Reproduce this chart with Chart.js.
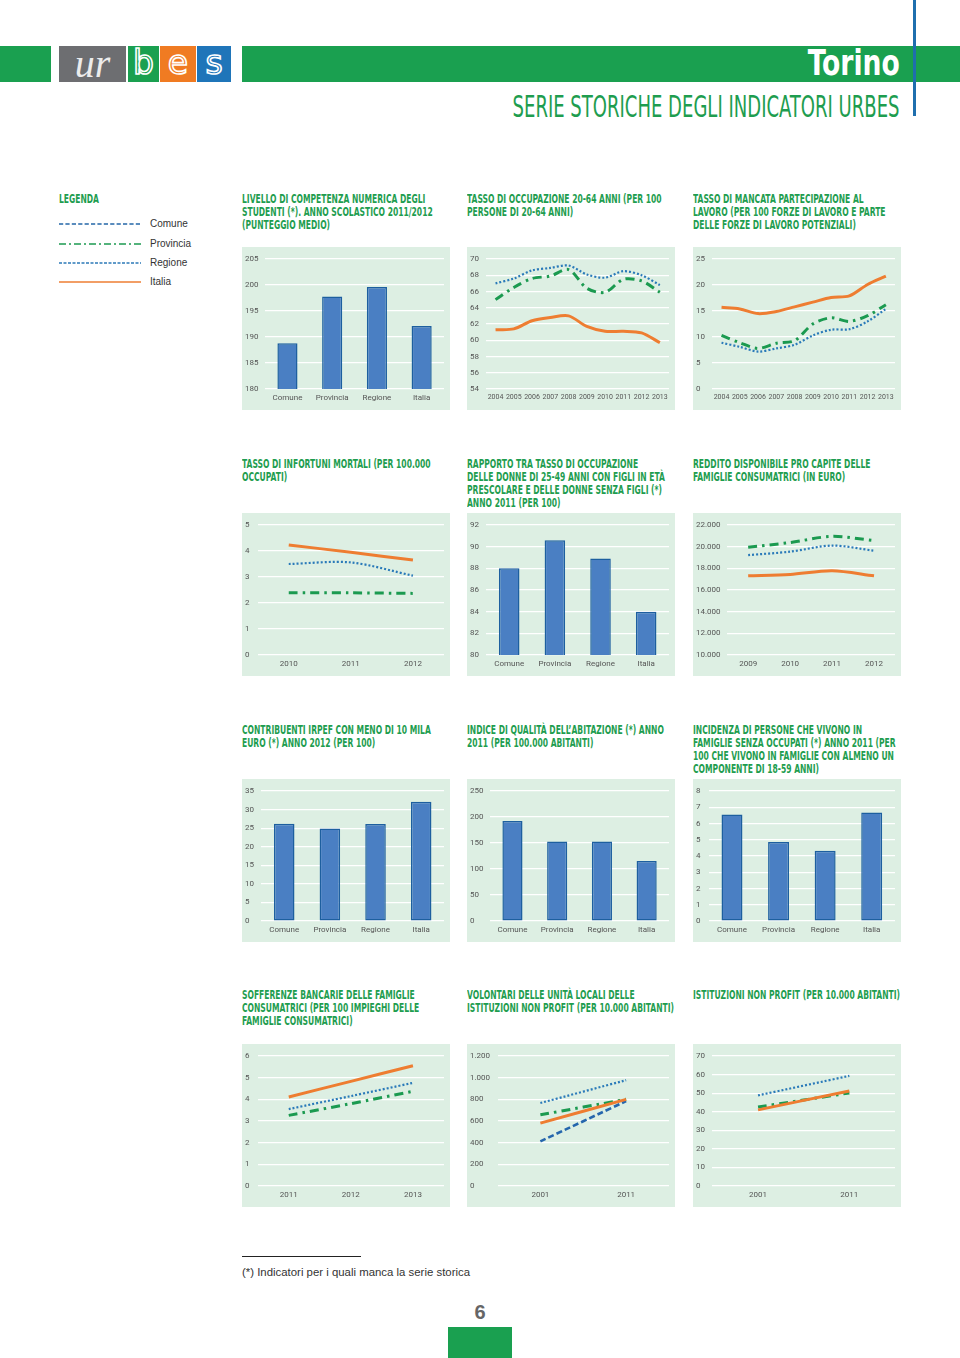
<!DOCTYPE html>
<html><head><meta charset="utf-8">
<script src="https://cdn.jsdelivr.net/npm/chart.js@4"></script>
<style>
body{margin:0;width:960px;height:1358px;position:relative;background:#fff;overflow:hidden;font-family:'Liberation Sans',Arial,sans-serif;}
.abs{position:absolute;}
.green{background:#1aa050;}
.narrow{font-family:'Liberation Sans Narrow','DejaVu Sans Condensed','Roboto Condensed',Roboto,sans-serif;}
.title{position:absolute;color:#1e9d4f;font-weight:bold;font-size:12.5px;line-height:13px;white-space:nowrap;transform-origin:0 0;}
.panel{position:absolute;width:208px;height:163px;background:#ddefe3;}
.panel canvas{display:block;}
.logo{position:absolute;top:46px;height:36px;text-align:center;line-height:34px;overflow:hidden;}
.ol{color:transparent;-webkit-text-stroke:1.6px #fff;font-family:'DejaVu Sans',sans-serif;font-size:33px;}
.leg{position:absolute;left:150px;font-size:10px;color:#333;line-height:12px;}
</style></head>
<body>
<!-- header -->
<div class="abs green" style="left:0;top:46px;width:51px;height:36px"></div>
<div class="logo" style="left:59px;width:67px;background:#6d6e71;color:#ececec;font-family:'Liberation Serif',serif;font-style:italic;font-size:40px;line-height:36px;">ur</div>
<div class="logo ol" style="left:128px;width:31px;background:#1aa050;">b</div>
<div class="logo ol" style="left:160px;width:36px;background:#f07b22;">e</div>
<div class="logo ol" style="left:197px;width:34px;background:#1f75b9;">s</div>
<div class="abs green" style="left:242px;top:46px;width:718px;height:36px"></div>
<div id="torino" class="abs narrow" style="right:60px;top:46px;font-size:35px;line-height:35px;color:#fff;font-weight:bold;white-space:nowrap;">Torino</div>
<div class="abs" style="left:913px;top:0;width:3px;height:116px;background:#1f6fae"></div>
<div id="subtitle" class="abs narrow" style="right:60px;top:91px;font-size:31px;line-height:31px;color:#1e9d4f;white-space:nowrap;">SERIE STORICHE DEGLI INDICATORI URBES</div>

<!-- legend -->
<div class="title narrow" style="left:59px;top:191.5px;">LEGENDA</div>
<svg class="abs" style="left:59px;top:215px" width="84" height="75">
  <line x1="0" y1="9" x2="82" y2="9" stroke="#2467a8" stroke-width="1.6" stroke-dasharray="4.2,2.2"/>
  <line x1="0" y1="29" x2="82" y2="29" stroke="#1d9a52" stroke-width="1.6" stroke-dasharray="7,3,2,3"/>
  <line x1="0" y1="48" x2="82" y2="48" stroke="#2d7ab8" stroke-width="1.4" stroke-dasharray="3,1.5"/>
  <line x1="0" y1="67" x2="82" y2="67" stroke="#ee7e33" stroke-width="1.6"/>
</svg>
<div class="leg" style="top:218px">Comune</div>
<div class="leg" style="top:238px">Provincia</div>
<div class="leg" style="top:257px">Regione</div>
<div class="leg" style="top:276px">Italia</div>

<!-- titles row 1 -->
<div class="title narrow" style="left:242px;top:191.5px;">LIVELLO DI COMPETENZA NUMERICA DEGLI<br>STUDENTI (*). ANNO SCOLASTICO 2011/2012<br>(PUNTEGGIO MEDIO)</div>
<div class="title narrow" style="left:467px;top:191.5px;">TASSO DI OCCUPAZIONE 20-64 ANNI (PER 100<br>PERSONE DI 20-64 ANNI)</div>
<div class="title narrow" style="left:693px;top:191.5px;">TASSO DI MANCATA PARTECIPAZIONE AL<br>LAVORO (PER 100 FORZE DI LAVORO E PARTE<br>DELLE FORZE DI LAVORO POTENZIALI)</div>
<!-- row 2 -->
<div class="title narrow" style="left:242px;top:456.5px;">TASSO DI INFORTUNI MORTALI (PER 100.000<br>OCCUPATI)</div>
<div class="title narrow" style="left:467px;top:456.5px;">RAPPORTO TRA TASSO DI OCCUPAZIONE<br>DELLE DONNE DI 25-49 ANNI CON FIGLI IN ETÀ<br>PRESCOLARE E DELLE DONNE SENZA FIGLI (*)<br>ANNO 2011 (PER 100)</div>
<div class="title narrow" style="left:693px;top:456.5px;">REDDITO DISPONIBILE PRO CAPITE DELLE<br>FAMIGLIE CONSUMATRICI (IN EURO)</div>
<!-- row 3 -->
<div class="title narrow" style="left:242px;top:722.5px;">CONTRIBUENTI IRPEF CON MENO DI 10 MILA<br>EURO (*) ANNO 2012 (PER 100)</div>
<div class="title narrow" style="left:467px;top:722.5px;">INDICE DI QUALITÀ DELL’ABITAZIONE (*) ANNO<br>2011 (PER 100.000 ABITANTI)</div>
<div class="title narrow" style="left:693px;top:722.5px;">INCIDENZA DI PERSONE CHE VIVONO IN<br>FAMIGLIE SENZA OCCUPATI (*) ANNO 2011 (PER<br>100 CHE VIVONO IN FAMIGLIE CON ALMENO UN<br>COMPONENTE DI 18-59 ANNI)</div>
<!-- row 4 -->
<div class="title narrow" style="left:242px;top:987.5px;">SOFFERENZE BANCARIE DELLE FAMIGLIE<br>CONSUMATRICI (PER 100 IMPIEGHI DELLE<br>FAMIGLIE CONSUMATRICI)</div>
<div class="title narrow" style="left:467px;top:987.5px;">VOLONTARI DELLE UNITÀ LOCALI DELLE<br>ISTITUZIONI NON PROFIT (PER 10.000 ABITANTI)</div>
<div class="title narrow" style="left:693px;top:987.5px;">ISTITUZIONI NON PROFIT (PER 10.000 ABITANTI)</div>
<span id="measure" class="title narrow" style="visibility:hidden;left:0;top:0;">ISTITUZIONI NON PROFIT (PER 10.000 ABITANTI)</span>

<!-- panels -->
<div class="panel" style="left:242px;top:247px"><canvas id="c1" width="208" height="163"></canvas></div>
<div class="panel" style="left:467px;top:247px"><canvas id="c2" width="208" height="163"></canvas></div>
<div class="panel" style="left:693px;top:247px"><canvas id="c3" width="208" height="163"></canvas></div>
<div class="panel" style="left:242px;top:513px"><canvas id="c4" width="208" height="163"></canvas></div>
<div class="panel" style="left:467px;top:513px"><canvas id="c5" width="208" height="163"></canvas></div>
<div class="panel" style="left:693px;top:513px"><canvas id="c6" width="208" height="163"></canvas></div>
<div class="panel" style="left:242px;top:779px"><canvas id="c7" width="208" height="163"></canvas></div>
<div class="panel" style="left:467px;top:779px"><canvas id="c8" width="208" height="163"></canvas></div>
<div class="panel" style="left:693px;top:779px"><canvas id="c9" width="208" height="163"></canvas></div>
<div class="panel" style="left:242px;top:1044px"><canvas id="c10" width="208" height="163"></canvas></div>
<div class="panel" style="left:467px;top:1044px"><canvas id="c11" width="208" height="163"></canvas></div>
<div class="panel" style="left:693px;top:1044px"><canvas id="c12" width="208" height="163"></canvas></div>

<!-- footer -->
<div class="abs" style="left:242px;top:1256px;width:119px;height:1px;background:#222"></div>
<div id="foot" class="abs" style="left:242px;top:1265px;font-size:10.5px;line-height:14px;color:#333;white-space:nowrap;transform-origin:0 0;">(*) Indicatori per i quali manca la serie storica</div>
<div class="abs" style="left:448px;top:1300px;width:64px;text-align:center;font-size:20px;font-weight:bold;color:#666;line-height:24px;">6</div>
<div class="abs green" style="left:448px;top:1327px;width:64px;height:31px"></div>

<script>
// ---------- DATA ----------
const barCategories = ['Comune', 'Provincia', 'Regione', 'Italia'];

// 1. Livello di competenza numerica degli studenti
const competenzaValues = [188.8, 197.8, 199.6, 192.1];
const competenzaTicks = [180, 205, 5];

// 2. Tasso di occupazione 20-64
const occupazioneYears = ['2004','2005','2006','2007','2008','2009','2010','2011','2012','2013'];
const occupazioneItalia    = [61.3, 61.4, 62.4, 62.8, 63.0, 61.7, 61.1, 61.1, 60.9, 59.7];
const occupazioneRegione   = [67.0, 67.6, 68.6, 68.9, 69.2, 68.1, 67.7, 68.5, 68.0, 66.8];
const occupazioneProvincia = [65.0, 66.5, 67.6, 67.9, 68.7, 66.4, 65.9, 67.5, 67.3, 65.9];
const occupazioneTicks = [54, 70, 2];

// 3. Tasso di mancata partecipazione al lavoro
const mancataYears = ['2004','2005','2006','2007','2008','2009','2010','2011','2012','2013'];
const mancataItalia    = [15.7, 15.4, 14.5, 14.9, 15.8, 16.7, 17.6, 17.9, 20.1, 21.7];
const mancataRegione   = [8.9, 8.1, 7.2, 7.8, 8.5, 10.3, 11.4, 11.5, 13.0, 15.4];
const mancataProvincia = [10.3, 8.9, 7.8, 8.8, 9.3, 12.5, 13.7, 13.0, 14.1, 16.2];
const mancataTicks = [0, 25, 5];

// 4. Tasso di infortuni mortali
const infortuniYears = ['2010','2011','2012'];
const infortuniItalia    = [4.23, 3.95, 3.65];
const infortuniRegione   = [3.50, 3.56, 3.05];
const infortuniProvincia = [2.39, 2.39, 2.37];
const infortuniTicks = [0, 5, 1];

// 5. Rapporto tasso di occupazione donne
const rapportoValues = [88.0, 90.6, 88.9, 84.0];
const rapportoTicks = [80, 92, 2];

// 6. Reddito disponibile pro capite
const redditoYears = ['2009','2010','2011','2012'];
const redditoItalia    = [17310, 17440, 17780, 17310];
const redditoRegione   = [19220, 19540, 20100, 19630];
const redditoProvincia = [19950, 20380, 20950, 20560];
const redditoTicks = [10000, 22000, 2000];

// 7. Contribuenti IRPEF con meno di 10 mila euro
const irpefValues = [26.2, 24.9, 26.1, 32.1];
const irpefTicks = [0, 35, 5];

// 8. Indice di qualita dell'abitazione
const abitazioneValues = [192.5, 153, 153, 115.5];
const abitazioneTicks = [0, 250, 50];

// 9. Incidenza di persone in famiglie senza occupati
const incidenzaValues = [6.55, 4.86, 4.32, 6.67];
const incidenzaTicks = [0, 8, 1];

// 10. Sofferenze bancarie
const sofferenzeYears = ['2011','2012','2013'];
const sofferenzeItalia    = [4.11, 4.83, 5.55];
const sofferenzeRegione   = [3.55, 4.15, 4.76];
const sofferenzeProvincia = [3.26, 3.80, 4.37];
const sofferenzeTicks = [0, 6, 1];

// 11. Volontari delle unita locali
const volontariYears = ['2001','2011'];
const volontariItalia    = [580, 800];
const volontariRegione   = [766, 977];
const volontariProvincia = [657, 800];
const volontariComune    = [412, 784];
const volontariTicks = [0, 1200, 200];

// 12. Istituzioni non profit
const nonprofitYears = ['2001','2011'];
const nonprofitItalia    = [41.0, 51.2];
const nonprofitRegione   = [48.8, 59.3];
const nonprofitProvincia = [42.5, 50.1];
const nonprofitTicks = [0, 70, 10];

// ---------- TEXT FITTING ----------
(function(){
  const m = document.getElementById('measure');
  const f = 207 / m.getBoundingClientRect().width;
  document.querySelectorAll('.title').forEach(el => { el.style.transform = 'scaleX(' + f + ')'; });
  function fit(id, target, origin){
    const el = document.getElementById(id);
    const w = el.getBoundingClientRect().width;
    el.style.transformOrigin = origin;
    el.style.transform = 'scaleX(' + (target / w) + ')';
  }
  fit('subtitle', 387, '100% 0');
  fit('torino', 92, '100% 0');
  fit('foot', 228, '0 0');
})();

// ---------- CHARTS ----------
const FONT = "Roboto,'Liberation Sans',sans-serif";
Chart.defaults.font.family = FONT;

const STY = {
  Italia:    {borderColor:'#ee7d31', borderWidth:3},
  Regione:   {borderColor:'#2a7ab9', borderWidth:2.2, borderDash:[2,2]},
  Provincia: {borderColor:'#1b9a50', borderWidth:3, borderDash:[9,5,2.5,5]},
  Comune:    {borderColor:'#2566ad', borderWidth:2.6, borderDash:[6,3]}
};
function ln(name, data){
  return Object.assign({label:name, data:data, pointRadius:0, tension:0.3, fill:false, borderCapStyle:'butt'}, STY[name]);
}
function itFmt(v){ return String(v).replace(/\B(?=(\d{3})+(?!\d))/g, '.'); }

function opts(ticks, xFontSize){
  return {
    responsive:false, animation:false,
    layout:{padding:{left:3, right:6, top:12, bottom:0}},
    plugins:{legend:{display:false}, tooltip:{enabled:false}},
    scales:{
      x:{
        offset:true,
        grid:{display:false, drawTicks:false}, border:{display:false},
        ticks:{color:'#555', font:{size:xFontSize}, padding:4, autoSkip:false, maxRotation:0, minRotation:0},
        afterFit(s){ s.height = 21; }
      },
      y:{
        min:ticks[0], max:ticks[1],
        grid:{color:'#ffffff', lineWidth:1.2, drawTicks:false},
        border:{display:false},
        ticks:{stepSize:ticks[2], color:'#555', font:{size:8}, padding:6, crossAlign:'far', callback:(v)=>itFmt(v)},
        afterFit(s){
          const len = Math.max.apply(null, s.ticks.map(t => String(t.label).length));
          s.width = 9 + 3.7 * len;
        }
      }
    }
  };
}
function barChart(id, values, ticks){
  new Chart(document.getElementById(id), {
    type:'bar',
    data:{labels:barCategories, datasets:[{data:values, backgroundColor:'#4a7fc3', borderColor:'#1d5f9f', borderWidth:1.5, borderSkipped:false, barPercentage:0.45, categoryPercentage:1}]},
    options:opts(ticks, 8)
  });
}
function lineChart(id, labels, datasets, ticks){
  new Chart(document.getElementById(id), {type:'line', data:{labels:labels, datasets:datasets}, options:opts(ticks, labels.length > 6 ? 7 : 8)});
}

barChart('c1', competenzaValues, competenzaTicks);
lineChart('c2', occupazioneYears, [ln('Italia', occupazioneItalia), ln('Provincia', occupazioneProvincia), ln('Regione', occupazioneRegione)], occupazioneTicks);
lineChart('c3', mancataYears, [ln('Italia', mancataItalia), ln('Provincia', mancataProvincia), ln('Regione', mancataRegione)], mancataTicks);
lineChart('c4', infortuniYears, [ln('Italia', infortuniItalia), ln('Provincia', infortuniProvincia), ln('Regione', infortuniRegione)], infortuniTicks);
barChart('c5', rapportoValues, rapportoTicks);
lineChart('c6', redditoYears, [ln('Italia', redditoItalia), ln('Provincia', redditoProvincia), ln('Regione', redditoRegione)], redditoTicks);
barChart('c7', irpefValues, irpefTicks);
barChart('c8', abitazioneValues, abitazioneTicks);
barChart('c9', incidenzaValues, incidenzaTicks);
lineChart('c10', sofferenzeYears, [ln('Italia', sofferenzeItalia), ln('Provincia', sofferenzeProvincia), ln('Regione', sofferenzeRegione)], sofferenzeTicks);
lineChart('c11', volontariYears, [ln('Italia', volontariItalia), ln('Provincia', volontariProvincia), ln('Comune', volontariComune), ln('Regione', volontariRegione)], volontariTicks);
lineChart('c12', nonprofitYears, [ln('Italia', nonprofitItalia), ln('Provincia', nonprofitProvincia), ln('Regione', nonprofitRegione)], nonprofitTicks);
</script>
</body></html>
